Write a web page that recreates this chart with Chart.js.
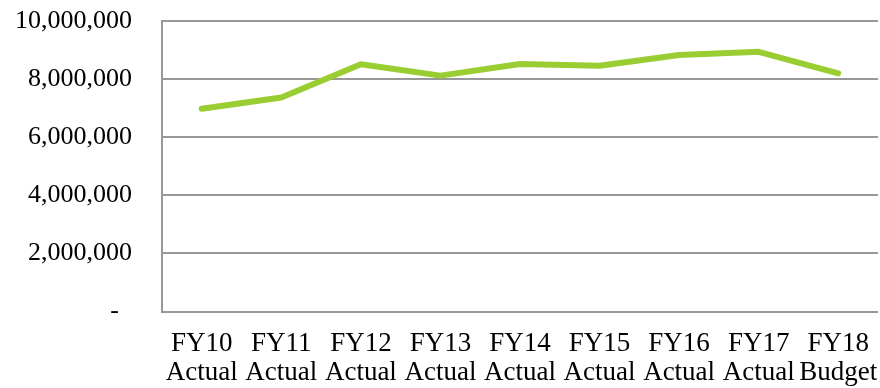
<!DOCTYPE html>
<html>
<head>
<meta charset="utf-8">
<script src="https://cdn.jsdelivr.net/npm/chart.js@4/dist/chart.umd.min.js"></script>
<style>
  html, body { margin: 0; padding: 0; background: #fff; }
  #wrap { width: 880px; height: 388px; position: relative; }
</style>
</head>
<body>
<div id="wrap"><canvas id="c"></canvas></div>
<script>
const years = ['FY10', 'FY11', 'FY12', 'FY13', 'FY14', 'FY15', 'FY16', 'FY17', 'FY18'];
const kinds = ['Actual', 'Actual', 'Actual', 'Actual', 'Actual', 'Actual', 'Actual', 'Actual', 'Budget'];
const values = [6980000, 7370000, 8510000, 8120000, 8520000, 8460000, 8830000, 8940000, 8200000];
const yTicks = [0, 2000000, 4000000, 6000000, 8000000, 10000000];

const labels = years.map((y, i) => [y, kinds[i]]);
const family = "'Liberation Serif', 'Times New Roman', serif";

new Chart(document.getElementById('c'), {
  type: 'line',
  data: {
    labels: labels,
    datasets: [{
      data: values,
      borderColor: '#9ACD32',
      borderWidth: 6,
      borderCapStyle: 'round',
      borderJoinStyle: 'round',
      pointRadius: 0,
      tension: 0,
      fill: false
    }]
  },
  options: {
    responsive: true,
    maintainAspectRatio: false,
    animation: false,
    layout: { padding: { left: 15, right: 2, top: 21, bottom: 0 } },
    plugins: { legend: { display: false }, tooltip: { enabled: false } },
    scales: {
      x: {
        offset: true,
        grid: { display: true, drawOnChartArea: false, drawTicks: true, tickLength: 17, tickColor: 'rgba(0,0,0,0)', color: 'rgba(0,0,0,0)' },
        border: { display: false },
        ticks: {
          color: '#000', font: { family: family, size: 27, lineHeight: 1.1 }, padding: 0,
          maxRotation: 0, autoSkip: false
        }
      },
      y: {
        min: yTicks[0],
        max: yTicks[yTicks.length - 1],
        afterBuildTicks: (axis) => { axis.ticks = yTicks.map(v => ({ value: v })); },
        grid: { color: '#989898', lineWidth: 2, drawTicks: true, tickLength: 30, tickColor: 'rgba(0,0,0,0)' },
        border: { display: true, color: '#989898', width: 2 },
        ticks: {
          color: '#000', font: { family: family, size: 26 }, padding: 0,
          callback: (v) => v === 0 ? '-  ' : Number(v).toLocaleString('en-US')
        }
      }
    }
  }
});
</script>
</body>
</html>
